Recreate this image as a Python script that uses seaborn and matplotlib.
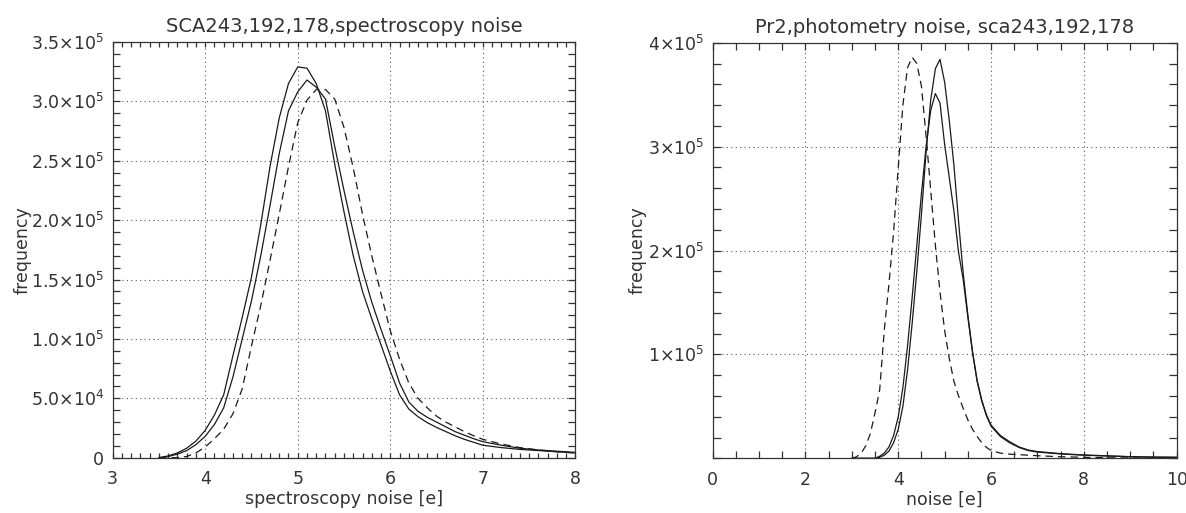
import numpy as np
import pandas as pd
import seaborn as sns
import matplotlib.pyplot as plt
from matplotlib.ticker import MultipleLocator, FixedLocator

# ---- left panel: spectroscopy noise histograms ----
spec_x = [3.5, 3.6, 3.7, 3.8, 3.9, 4.0, 4.1, 4.2, 4.3, 4.4, 4.5, 4.6, 4.7, 4.8, 4.9,
          5.0, 5.1, 5.2, 5.3, 5.4, 5.5, 5.6, 5.7, 5.8, 5.9, 6.0, 6.1, 6.2, 6.3, 6.4,
          6.5, 6.6, 6.7, 6.8, 6.9, 7.0, 7.2, 7.4, 7.6, 7.8, 8.0]
spec_a = [0, 1.5e3, 4e3, 8e3, 1.4e4, 2.3e4, 3.6e4, 5.3e4, 8.6e4, 1.18e5, 1.52e5, 1.96e5,
          2.45e5, 2.86e5, 3.15e5, 3.29e5, 3.28e5, 3.15e5, 2.92e5, 2.47e5, 2.07e5, 1.7e5,
          1.4e5, 1.17e5, 9.5e4, 7.3e4, 5.3e4, 4.1e4, 3.45e4, 2.95e4, 2.55e4, 2.2e4,
          1.85e4, 1.55e4, 1.3e4, 1.05e4, 8.5e3, 7e3, 6e3, 5e3, 4e3]
spec_b = [0, 1e3, 3e3, 6e3, 1.1e4, 1.8e4, 2.8e4, 4.2e4, 6.8e4, 1.0e5, 1.32e5, 1.7e5,
          2.12e5, 2.56e5, 2.92e5, 3.08e5, 3.18e5, 3.12e5, 3.02e5, 2.62e5, 2.25e5, 1.9e5,
          1.58e5, 1.31e5, 1.08e5, 8.6e4, 6.3e4, 4.7e4, 3.9e4, 3.4e4, 3.0e4, 2.6e4,
          2.2e4, 1.9e4, 1.6e4, 1.35e4, 1.05e4, 8e3, 6.5e3, 5.5e3, 4.5e3]
spec_dash = [0, 0, 0, 1e3, 4e3, 9e3, 1.6e4, 2.4e4, 3.7e4, 5.8e4, 9.4e4, 1.28e5,
             1.66e5, 2.05e5, 2.45e5, 2.82e5, 3.01e5, 3.1e5, 3.1e5, 3.02e5, 2.78e5, 2.44e5,
             2.05e5, 1.7e5, 1.38e5, 1.07e5, 8.3e4, 6.3e4, 5.0e4, 4.2e4, 3.5e4, 3.0e4,
             2.6e4, 2.2e4, 1.85e4, 1.55e4, 1.15e4, 8.5e3, 6.5e3, 5e3, 4e3]

# ---- right panel: photometry noise histograms ----
phot_x = [3.0, 3.1, 3.2, 3.3, 3.4, 3.5, 3.6, 3.7, 3.8, 3.9, 4.0, 4.1, 4.2, 4.3, 4.4,
          4.5, 4.6, 4.7, 4.8, 4.9, 5.0, 5.1, 5.2, 5.3, 5.4, 5.5, 5.6, 5.7, 5.8, 5.9,
          6.0, 6.2, 6.4, 6.6, 6.8, 7.0, 7.5, 8.0, 8.5, 9.0, 9.5, 10.0]
phot_a = [0, 0, 0, 0, 0, 0, 1e3, 3e3, 7e3, 1.5e4, 2.8e4, 5.0e4, 8.5e4, 1.3e5, 1.8e5,
          2.35e5, 2.95e5, 3.45e5, 3.75e5, 3.84e5, 3.62e5, 3.25e5, 2.82e5, 2.28e5, 1.78e5,
          1.38e5, 1.03e5, 7.5e4, 5.6e4, 4.2e4, 3.2e4, 2.2e4, 1.6e4, 1.1e4, 8e3, 6.5e3,
          4.5e3, 3.2e3, 2.4e3, 1.6e3, 1.2e3, 1e3]
phot_b = [0, 0, 0, 0, 0, 0, 2e3, 5e3, 1.1e4, 2.2e4, 4.0e4, 6.8e4, 1.08e5, 1.55e5, 2.05e5,
          2.55e5, 3.0e5, 3.35e5, 3.51e5, 3.42e5, 3.02e5, 2.7e5, 2.38e5, 1.98e5, 1.72e5,
          1.36e5, 1.02e5, 7.4e4, 5.5e4, 4.1e4, 3.1e4, 2.1e4, 1.5e4, 1.05e4, 7.5e3, 6e3,
          4.2e3, 3e3, 2.2e3, 1.5e3, 1.1e3, 9e2]
phot_dash = [0, 1.5e3, 5e3, 1.2e4, 2.4e4, 4.4e4, 6.6e4, 1.24e5, 1.68e5, 2.18e5, 2.8e5,
             3.4e5, 3.76e5, 3.86e5, 3.8e5, 3.58e5, 3.1e5, 2.58e5, 2.05e5, 1.6e5, 1.23e5,
             9.6e4, 7.4e4, 6.0e4, 4.8e4, 3.7e4, 2.8e4, 2.1e4, 1.5e4, 1.05e4, 7.5e3, 5e3,
             4e3, 3.5e3, 3e3, 2.5e3, 1.5e3, 1e3, 5e2, 3e2, 2e2, 1e2]

spec_yticks = [0, 5e4, 1e5, 1.5e5, 2e5, 2.5e5, 3e5, 3.5e5]
spec_ylabels = ['0', r'5.0$\times$10$^4$', r'1.0$\times$10$^5$', r'1.5$\times$10$^5$',
                r'2.0$\times$10$^5$', r'2.5$\times$10$^5$', r'3.0$\times$10$^5$',
                r'3.5$\times$10$^5$']
phot_yticks = [0, 1e5, 2e5, 3e5, 4e5]
phot_ylabels = ['', r'1$\times$10$^5$', r'2$\times$10$^5$', r'3$\times$10$^5$', r'4$\times$10$^5$']

sns.set_style("ticks")
plt.rcParams['font.family'] = ['DejaVu Sans']
plt.rcParams['mathtext.default'] = 'regular'

ink = '#333333'
line_col = '#1a1a1a'

fig = plt.figure(figsize=(11.86, 5.13), dpi=100)
ax1 = fig.add_axes([0.095, 0.1078, 0.3901, 0.8103])
ax2 = fig.add_axes([0.6009, 0.1066, 0.3912, 0.8101])


def draw(ax, x, ys, dashed):
    for y, d in zip(ys, dashed):
        df = pd.DataFrame({'x': x, 'y': y})
        if d:
            sns.lineplot(data=df, x='x', y='y', ax=ax, color=line_col, lw=0.9,
                         dashes=False, linestyle=(0, (6, 4)), legend=False)
        else:
            sns.lineplot(data=df, x='x', y='y', ax=ax, color=line_col, lw=0.9,
                         legend=False)


def style(ax, xlim, ylim, xmaj, xmin, yticks, ylabels, ymin, xlen, ylen):
    ax.set_xlim(*xlim)
    ax.set_ylim(*ylim)
    ax.xaxis.set_major_locator(MultipleLocator(xmaj))
    ax.xaxis.set_minor_locator(MultipleLocator(xmin))
    ax.yaxis.set_major_locator(FixedLocator(yticks))
    ax.set_yticklabels(ylabels)
    ax.yaxis.set_minor_locator(MultipleLocator(ymin))
    ax.tick_params(axis='x', which='both', direction='in', top=True, bottom=True,
                   length=xlen, width=0.9, color=ink, labelsize=12.5, labelcolor=ink, pad=9)
    ax.tick_params(axis='y', which='both', direction='in', left=True, right=True,
                   length=ylen, width=0.9, color=ink, labelsize=12.5, labelcolor=ink, pad=6)
    for s in ax.spines.values():
        s.set_linewidth(0.9)
        s.set_color(ink)
    grid_y = [t for t in yticks if ylim[0] < t < ylim[1]]
    for t in grid_y:
        ax.axhline(t, color='#555555', lw=0.8, linestyle=(0, (1, 3)), zorder=0)
    for t in np.arange(xlim[0] + xmaj, xlim[1], xmaj):
        ax.axvline(t, color='#555555', lw=0.8, linestyle=(0, (1, 3)), zorder=0)


draw(ax1, spec_x, [spec_a, spec_b, spec_dash], [False, False, True])
style(ax1, (3, 8), (0, 3.5e5), 1, 0.1, spec_yticks, spec_ylabels, 1e4, 3.8, 5)
ax1.set_title('SCA243,192,178,spectroscopy noise', fontsize=14, color=ink, pad=7)
ax1.set_xlabel('spectroscopy noise [e]', fontsize=12.5, color=ink)
ax1.set_ylabel('frequency', fontsize=12.5, color=ink)
ax1.xaxis.set_label_coords(0.5, -0.078)
ax1.yaxis.set_label_coords(-0.175, 0.5)

draw(ax2, phot_x, [phot_a, phot_b, phot_dash], [False, False, True])
style(ax2, (0, 10), (0, 4e5), 2, 0.5, phot_yticks, phot_ylabels, 2e4, 5, 6)
ax2.set_title('Pr2,photometry noise, sca243,192,178', fontsize=14, color=ink, pad=7)
ax2.set_xlabel('noise [e]', fontsize=12.5, color=ink)
ax2.set_ylabel('frequency', fontsize=12.5, color=ink)
ax2.xaxis.set_label_coords(0.5, -0.078)
ax2.yaxis.set_label_coords(-0.143, 0.5)

fig.savefig('out.png', dpi=100)
